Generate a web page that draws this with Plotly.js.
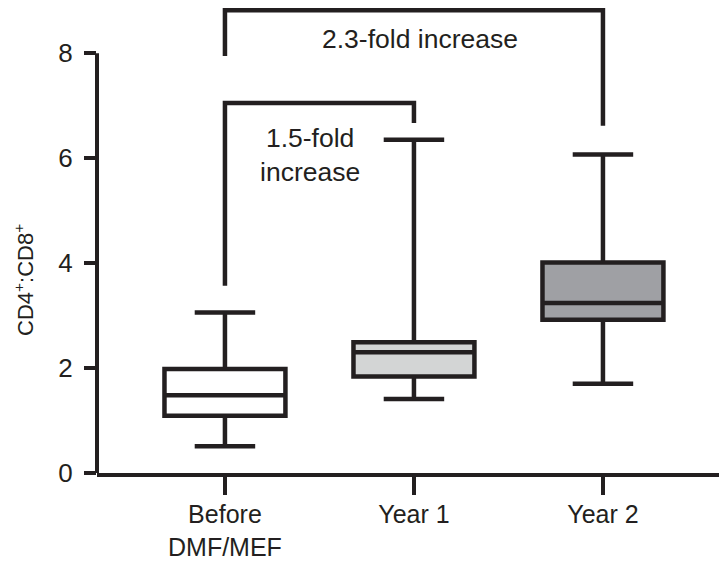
<!DOCTYPE html>
<html>
<head>
<meta charset="utf-8">
<script src="https://cdn.plot.ly/plotly-3.0.1.min.js"></script>
<style>html,body{margin:0;padding:0;background:#fff;}#chart{width:719px;height:563px;}</style>
</head>
<body>
<div id="chart"></div>
<script>
// ---- data ----
const categories = ['Before<br>DMF/MEF', 'Year 1', 'Year 2'];
const lowerWhisker = [0.51, 1.41, 1.70];
const q1Values = [1.09, 1.84, 2.92];
const medianValues = [1.48, 2.30, 3.24];
const q3Values = [1.98, 2.49, 4.01];
const upperWhisker = [3.06, 6.35, 6.07];
const yTicks = [0, 2, 4, 6, 8];

// comparison brackets (from category index -> to category index)
const bracketFrom = [0, 0];
const bracketTo = [1, 2];
const bracketLeftY = [3.57, 7.95];
const bracketTopY = [7.05, 8.82];
const bracketRightY = [6.67, 6.62];
const bracketLabels = ['1.5-fold<br>increase', '2.3-fold increase'];
const bracketLabelX = [0.45, 1.03];
const bracketLabelY = [6.06, 8.27];

// ---- styles ----
const ink = '#231f20';
const boxFills = ['#ffffff', '#d3d5d5', '#9fa0a4'];
const fontFam = '"Liberation Sans", Arial, sans-serif';

const traces = categories.map((c, i) => ({
  type: 'box',
  x: [c],
  q1: [q1Values[i]],
  median: [medianValues[i]],
  q3: [q3Values[i]],
  lowerfence: [lowerWhisker[i]],
  upperfence: [upperWhisker[i]],
  boxpoints: false,
  width: 0.64,
  whiskerwidth: 0.5,
  fillcolor: boxFills[i],
  line: {color: ink, width: 4.5},
  hoverinfo: 'skip',
  showlegend: false
}));

bracketFrom.forEach((f, k) => {
  const a = categories[f], b = categories[bracketTo[k]];
  traces.push({
    type: 'scatter', mode: 'lines',
    x: [a, a, b, b],
    y: [bracketLeftY[k], bracketTopY[k], bracketTopY[k], bracketRightY[k]],
    line: {color: ink, width: 4.5},
    hoverinfo: 'skip', showlegend: false, cliponaxis: false
  });
});

const annotations = bracketLabels.map((t, k) => ({
  text: t, x: bracketLabelX[k], y: bracketLabelY[k], xref: 'x', yref: 'y',
  showarrow: false, align: 'center', xanchor: 'center', yanchor: 'middle',
  font: {family: fontFam, size: 26.5, color: ink}
}));
annotations.push({
  text: 'CD4<sup>+</sup>:CD8<sup>+</sup>', xref: 'paper', yref: 'y', x: 0, y: 3.68,
  xshift: -73, textangle: -90, showarrow: false, xanchor: 'center', yanchor: 'middle',
  font: {family: fontFam, size: 22, color: ink}
});

const layout = {
  width: 719, height: 563,
  margin: {l: 97, r: 0, t: 0, b: 90},
  paper_bgcolor: '#fff', plot_bgcolor: '#fff',
  boxmode: 'overlay', showlegend: false,
  font: {family: fontFam, size: 25, color: ink},
  xaxis: {
    type: 'category', range: [-0.677, 2.614],
    showline: true, linewidth: 4, linecolor: ink,
    ticks: 'outside', ticklen: 18, tickwidth: 4, tickcolor: ink,
    ticklabelstandoff: -2,
    showgrid: false, zeroline: false, fixedrange: true,
    tickfont: {family: fontFam, size: 25, color: ink}
  },
  yaxis: {
    range: [0, 9.015], tickvals: yTicks, ticktext: yTicks.map(String),
    showline: false, ticks: 'outside', ticklen: 12, tickwidth: 4, tickcolor: ink,
    ticklabelstandoff: 6,
    showgrid: false, zeroline: false, fixedrange: true,
    tickfont: {family: fontFam, size: 26, color: ink}
  },
  shapes: [{
    type: 'line', xref: 'paper', yref: 'y', x0: 0, x1: 0, y0: 0, y1: yTicks[yTicks.length - 1],
    line: {color: ink, width: 4}
  }],
  annotations: annotations
};

Plotly.newPlot('chart', traces, layout, {displayModeBar: false, staticPlot: true});
</script>
</body>
</html>
